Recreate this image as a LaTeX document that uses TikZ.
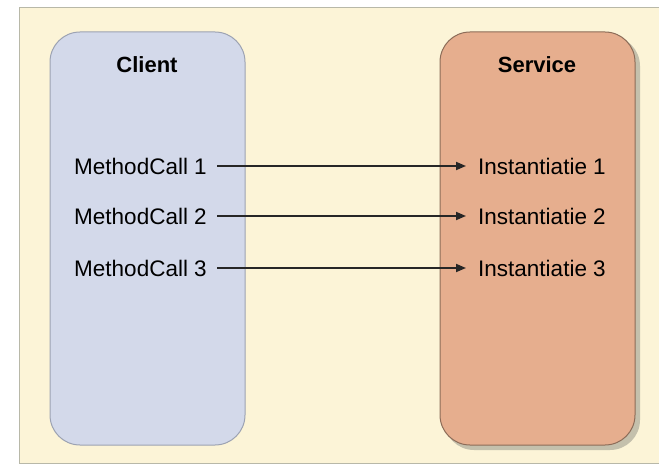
\documentclass[tikz,border=0pt]{standalone}
\usepackage{fontspec}
\setmainfont{Liberation Sans}
\usetikzlibrary{arrows.meta}
\definecolor{bgcream}{HTML}{FCF4D7}
\definecolor{bgborder}{HTML}{B8B8A8}
\definecolor{clientfill}{HTML}{D3D9EA}
\definecolor{clientdraw}{HTML}{9CA2B2}
\definecolor{servicefill}{HTML}{E6AE8E}
\definecolor{servicedraw}{HTML}{8C6C58}
\definecolor{shadowgray}{HTML}{C4C0AC}
\begin{document}
\begin{tikzpicture}[x=1pt,y=-1pt,
  lane/.style={rectangle, rounded corners=30pt, line width=1pt, minimum width=195pt, minimum height=413pt, inner sep=0pt},
  title/.style={font=\fontsize{22}{26}\selectfont\bfseries, inner sep=0pt},
  lbl/.style={font=\fontsize{22.5}{26}\selectfont, inner sep=0pt},
  conn/.style={line width=1.8pt, draw=black!85, -{Triangle[length=10pt,width=8pt]}}
]
\useasboundingbox (0,0) rectangle (659,465);
\fill[white] (0,0) rectangle (659,465);
\node[draw=bgborder, fill=bgcream, line width=1pt, rectangle, inner sep=0pt, minimum width=650pt, minimum height=456pt, anchor=north west] (bg) at (19,7) {};
\fill[shadowgray] (444,36) [rounded corners=30pt] rectangle (640,450);
\node[lane, fill=clientfill, draw=clientdraw] (client) at (147.5,238.5) {};
\node[lane, fill=servicefill, draw=servicedraw] (service) at (537.5,238.5) {};
\node[title] (ct) at (147,65) {Client};
\node[title] (st) at (537,65) {Service};
\node[lbl, anchor=east] (m1) at (207,166) {MethodCall 1};
\node[lbl, anchor=east] (m2) at (207,216) {MethodCall 2};
\node[lbl, anchor=east] (m3) at (207,268) {MethodCall 3};
\node[lbl, anchor=west] (i1) at (478,166) {Instantiatie 1};
\node[lbl, anchor=west] (i2) at (478,216) {Instantiatie 2};
\node[lbl, anchor=west] (i3) at (478,268) {Instantiatie 3};
\draw[conn, shorten <=10pt, shorten >=12pt] (m1.east) -- (i1.west);
\draw[conn, shorten <=10pt, shorten >=12pt] (m2.east) -- (i2.west);
\draw[conn, shorten <=10pt, shorten >=12pt] (m3.east) -- (i3.west);
\end{tikzpicture}
\end{document}
